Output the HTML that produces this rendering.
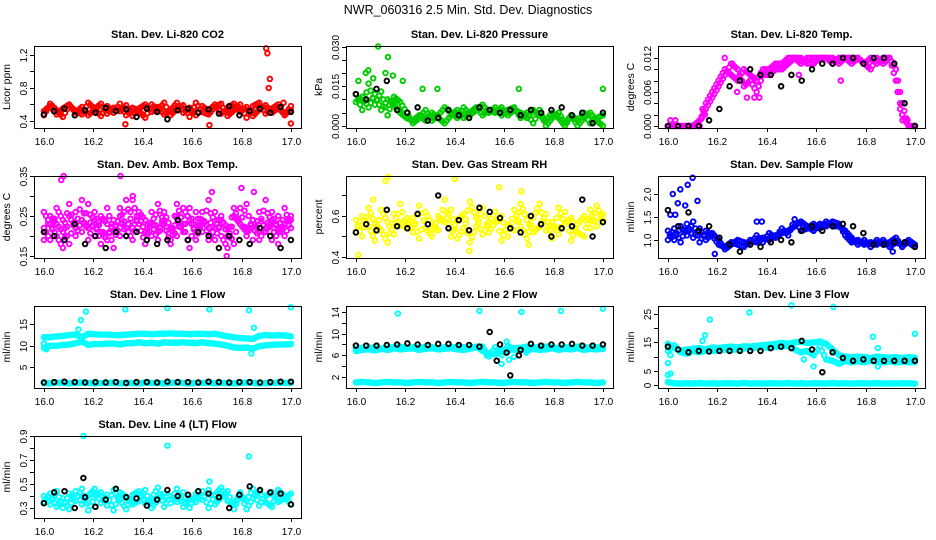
<!DOCTYPE html>
<html><head><meta charset="utf-8"><title>NWR_060316 diagnostics</title>
<style>
html,body{margin:0;padding:0;background:#fff;}
svg{display:block;font-family:"Liberation Sans",Arial,sans-serif;}
</style></head>
<body>
<svg id="chart" width="936" height="540" viewBox="0 0 936 540" xmlns="http://www.w3.org/2000/svg">
<rect x="0" y="0" width="936" height="540" fill="#fff"/>
<text x="468" y="14" text-anchor="middle" font-size="12.5">NWR_060316  2.5 Min. Std. Dev. Diagnostics</text>
</svg>
<script>
// ---- data (x of band series spans 16.0..17.0 evenly) ----
const xTicks = [16.0, 16.2, 16.4, 16.6, 16.8, 17.0];
const xTickLabels = ["16.0", "16.2", "16.4", "16.6", "16.8", "17.0"];

const co2A = [0.52,0.58,0.48,0.55,0.60,0.50,0.57,0.47,0.54,0.61,0.49,0.56,0.52,0.59,0.46,0.55,0.60,0.51,0.57,0.48,0.53,0.62,0.50,0.56,0.47,0.58,0.52,0.60,0.49,0.55,0.61,0.51,0.57,0.46,0.54,0.59,0.50,0.56,0.48,0.53];
const co2B = [0.47,0.61,0.53,0.45,0.59,0.52,0.48,0.62,0.55,0.46,0.58,0.50,0.61,0.47,0.56,0.52,0.44,0.60,0.53,0.62,0.47,0.55,0.59,0.45,0.62,0.51,0.48,0.57,0.61,0.46,0.53,0.60,0.44,0.58,0.62,0.49,0.55,0.60,0.47,0.58];
const co2OutX = [16.33,16.67,16.90,16.905,16.91,16.915,17.0,16.97];
const co2OutY = [0.36,0.35,1.28,1.22,0.80,0.91,0.37,0.62];
const co2K = [0.48,0.52,0.55,0.47,0.53,0.50,0.56,0.52,0.54,0.45,0.55,0.51,0.42,0.53,0.55,0.50,0.54,0.49,0.58,0.47,0.52,0.55,0.50,0.57,0.51];

const presA = [.009,.011,.007,.012,.006,.010,.008,.005,.003,.002,.004,.002,.005,.003,.001,.004,.006,.003,.005,.007,.004,.006,.005,.007,.004,.006,.005,.003,.006,.004,.002,.005,.003,.000,.004,.002,.005,.001,.003,.004];
const presB = [.012,.006,.016,.008,.013,.004,.011,.009,.005,.001,.003,.006,.002,.004,.007,.005,.003,.007,.004,.006,.008,.005,.007,.004,.006,.007,.003,.005,.001,.006,.000,.003,.005,.001,.004,.000,.003,.005,.002,.000];
const presOutX = [16.09,16.13,16.07,16.12,16.05,16.27,16.33,16.66,17.0,16.01,16.19,16.04,16.15];
const presOutY = [.030,.026,.018,.020,.021,.014,.014,.014,.014,.017,.017,.020,.019];
const presK = [.012,.010,.014,.017,.006,.005,.007,.002,.003,.006,.004,.003,.007,.006,.005,.006,.004,.006,.005,.006,.007,.004,.005,.001,.005];

const tempA = [0,0,0,0,0,0,.004,.006,.008,.010,.009,.008,.010,.009,.008,.010,.010,.011,.011,.012,.012,.011,.012,.012,.012,.012,.012,.011,.012,.012,.012,.011,.012,.011,.012,.012,.008,.002,0,0];
const tempB = [0,0,0,0,0,.001,.003,.005,.007,.009,.011,.010,.007,.008,.006,.009,.009,.010,.010,.011,.012,.012,.011,.011,.012,.012,.011,.012,.012,.011,.012,.011,.010,.012,.011,.012,.010,.004,0,0];
const tempOutX = [16.15,16.14,16.23,16.26,16.28,16.32,16.35,16.37,16.53,16.70,16.01,16.03,16.95,16.97,16.93,16.94];
const tempOutY = [.002,.003,.012,.011,.006,.005,.005,.005,.009,.008,.001,.001,.001,.001,.006,.003];
const tempK = [0,0,0,0,.001,.003,.007,.008,.010,.009,.009,.007,.009,.008,.010,.011,.011,.012,.012,.011,.012,.012,.011,.004,0];

const ambA = [.22,.19,.27,.24,.18,.26,.21,.28,.20,.25,.23,.17,.27,.22,.19,.26,.24,.20,.28,.23,.18,.25,.21,.27,.19,.24,.22,.26,.20,.17,.25,.23,.28,.19,.26,.21,.24,.18,.27,.22];
const ambB = [.26,.23,.20,.17,.25,.22,.29,.19,.24,.18,.27,.21,.25,.20,.29,.23,.18,.26,.21,.24,.19,.28,.23,.17,.26,.21,.29,.19,.24,.22,.18,.27,.20,.24,.21,.29,.19,.25,.20,.24];
const ambC = [.19,.25,.23,.21,.28,.20,.24,.22,.26,.21,.19,.24,.20,.29,.22,.25,.21,.23,.19,.26,.22,.20,.27,.24,.21,.26,.19,.22,.25,.20,.27,.23,.21,.24,.19,.22,.26,.21,.23,.25];
const ambOutX = [16.07,16.08,16.31,16.80,16.85,16.68,16.74,16.36];
const ambOutY = [.34,.35,.35,.32,.31,.31,.15,.30];
const ambK = [.21,.20,.19,.23,.18,.20,.17,.21,.20,.21,.19,.18,.19,.24,.19,.21,.20,.17,.20,.19,.18,.22,.20,.17,.19];

const rhA = [.52,.60,.55,.48,.63,.57,.51,.66,.54,.59,.49,.62,.56,.53,.68,.50,.58,.61,.47,.55,.64,.52,.57,.60,.50,.63,.55,.49,.59,.66,.53,.57,.51,.62,.48,.56,.60,.54,.65,.58];
const rhB = [.58,.50,.64,.56,.53,.47,.61,.55,.59,.52,.65,.54,.50,.60,.57,.63,.49,.54,.67,.59,.51,.57,.62,.48,.56,.53,.66,.58,.52,.55,.61,.49,.64,.56,.59,.52,.50,.63,.55,.61];
const rhOutX = [16.01,16.12,16.13,16.40,16.46,16.67,16.58,16.07,16.70];
const rhOutY = [.41,.77,.79,.78,.43,.72,.74,.68,.46];
const rhK = [.52,.56,.53,.63,.55,.54,.61,.56,.70,.54,.58,.53,.64,.62,.59,.54,.52,.60,.56,.50,.54,.55,.68,.50,.57];

const sfA = [1.2,1.0,1.3,1.1,1.4,0.95,1.2,1.1,0.9,0.85,0.95,0.9,0.85,1.0,0.95,1.05,1.0,1.1,1.15,1.2,1.3,1.4,1.3,1.2,1.35,1.3,1.4,1.35,1.1,0.95,1.0,0.9,0.95,0.9,1.0,0.85,0.95,0.9,0.95,0.85];
const sfB = [1.0,1.25,0.95,1.35,1.05,1.25,1.0,1.15,1.0,0.8,0.9,1.0,0.95,0.9,1.1,0.95,1.15,1.05,1.25,1.1,1.45,1.2,1.25,1.35,1.25,1.4,1.3,1.3,1.2,1.05,0.9,1.0,0.85,1.0,0.9,0.95,1.05,0.85,1.0,0.9];
const sfOutX = [16.02,16.03,16.04,16.05,16.07,16.08,16.10,16.12,16.19,16.36,16.38,16.91,16.01];
const sfOutY = [2.0,1.55,1.8,2.1,1.75,2.2,2.35,1.85,0.7,1.4,1.4,0.75,1.55];
const sfK = [1.65,1.3,1.6,1.2,1.3,1.05,0.9,0.75,0.9,0.85,0.95,1.0,0.95,1.2,1.3,1.2,1.3,1.35,1.3,1.15,0.9,0.9,0.95,0.95,0.85];

const l1Hi = [12.0,12.0,12.2,12.3,12.5,12.6,12.0,12.8,12.7,12.6,12.6,12.5,12.5,12.6,12.7,12.8,12.8,12.7,12.8,12.8,12.9,12.8,12.8,12.7,12.8,12.8,12.7,12.8,12.5,12.2,12.0,11.8,11.7,11.6,12.3,12.5,12.4,12.5,12.4,12.2];
const l1Lo = [9.5,10.0,10.0,10.2,10.3,10.6,11.0,10.2,10.4,10.4,10.5,10.5,10.3,10.6,10.6,10.8,10.6,10.7,10.5,10.8,10.7,10.7,10.8,10.7,10.6,10.8,10.6,10.5,10.3,10.0,9.6,9.5,9.6,9.3,9.9,10.1,10.2,10.3,10.3,10.4];
const l1Base = [1.3,1.2,1.4,1.3,1.2,1.3,1.4,1.3,1.2,1.3,1.3,1.4,1.2,1.3,1.3,1.2,1.4,1.3,1.3,1.2,1.3,1.4,1.3,1.2,1.3,1.3,1.4,1.2,1.3,1.3,1.2,1.3,1.4,1.3,1.2,1.3,1.3,1.4,1.3,1.3];
const l1OutX = [16.14,16.15,16.17,16.33,16.50,16.67,16.83,16.85,16.84,17.0,16.0,16.01];
const l1OutY = [13.8,16.0,18.0,18.5,18.8,18.5,18.3,14.2,8.2,19.0,10.5,9.2];
const l1K = [1.4,1.5,1.6,1.5,1.4,1.5,1.4,1.5,1.3,1.5,1.5,1.4,1.6,1.5,1.5,1.4,1.6,1.5,1.4,1.5,1.5,1.4,1.5,1.6,1.6];

const l2A = [7.2,7.4,7.3,7.5,7.2,7.4,7.5,7.6,7.3,7.5,7.4,7.6,7.5,7.3,7.5,7.4,7.6,7.5,7.4,7.6,6.8,6.4,6.2,7.0,6.8,7.3,7.4,7.6,7.5,7.4,7.6,7.5,7.3,7.5,7.4,7.6,7.5,7.4,7.5,7.3];
const l2B = [6.8,7.0,7.1,6.9,7.2,7.0,7.3,7.1,7.2,7.3,7.0,7.2,7.3,7.1,7.2,7.3,7.1,7.0,7.2,7.5,7.6,5.8,7.5,6.0,7.8,7.0,7.1,6.9,7.2,7.0,7.1,7.3,7.0,7.2,7.1,7.3,7.0,7.2,7.1,7.2];
const l2Base = [1.0,1.1,1.0,0.9,1.0,1.1,1.0,1.0,0.9,1.0,1.1,1.0,1.0,0.9,1.0,1.1,1.0,1.0,0.9,1.0,1.1,1.0,1.0,0.9,1.0,1.1,1.0,1.0,0.9,1.0,1.1,1.0,1.0,0.9,1.0,1.1,1.0,1.0,0.9,1.0];
const l2OutX = [16.17,16.33,16.50,16.67,16.83,17.0,16.53,16.59,16.62,16.61,16.64,16.69];
const l2OutY = [13.7,15.3,14.2,14.0,14.2,14.6,6.0,4.4,5.2,8.5,5.7,6.5];
const l2K = [7.8,7.8,7.8,7.9,8.0,8.2,8.0,7.9,8.1,8.1,7.9,7.9,7.6,10.3,8.0,2.3,7.0,8.1,7.8,8.0,8.0,8.1,7.8,7.8,8.0];
const l2KOutX = [16.57,16.61,16.66];
const l2KOutY = [5.0,6.5,6.0];

const l3A = [14.5,13.0,12.0,12.5,12.8,13.0,12.5,13.2,13.0,13.3,13.5,13.2,13.6,13.5,13.8,14.0,14.2,14.5,14.8,14.5,15.0,15.2,14.8,15.0,15.3,14.5,12.5,10.5,10.0,9.8,10.0,9.8,9.5,10.0,9.8,9.6,9.8,9.5,9.8,9.6];
const l3B = [12.0,14.0,11.5,11.0,12.0,11.5,12.0,12.0,12.2,12.5,12.3,12.6,12.8,13.0,13.2,13.3,13.0,13.5,13.5,13.8,12.5,11.5,12.0,10.5,13.5,9.0,8.5,7.5,8.5,8.0,8.3,8.0,8.5,8.2,8.0,8.3,8.0,8.2,8.0,8.1];
const l3Base = [1.0,0.6,0.5,0.6,0.5,0.7,0.5,0.6,0.5,0.6,0.6,0.5,0.7,0.5,0.6,0.5,0.6,0.6,0.5,0.7,0.5,0.6,0.5,0.6,0.6,0.5,0.7,0.5,0.6,0.5,0.6,0.6,0.5,0.7,0.5,0.6,0.5,0.6,0.6,0.5];
const l3OutX = [16.17,16.33,16.50,16.67,16.83,16.85,16.85,17.0,16.0,16.01,16.0,16.01,16.15,16.14,16.59,16.55];
const l3OutY = [23,25.5,28,27.5,17,13,6.5,18,7.7,10.5,3.5,4.0,17.5,15.5,6.5,9];
const l3K = [13.5,12.5,11.5,12.0,11.8,12.0,12.0,12.0,12.0,12.0,13.0,13.5,13.0,15.5,12.5,4.5,11.5,9.5,8.5,9.0,8.5,8.5,8.5,8.5,8.5];

const l4A = [.40,.33,.44,.30,.42,.36,.46,.28,.39,.43,.32,.45,.37,.29,.41,.44,.34,.38,.47,.31,.40,.35,.43,.30,.42,.37,.45,.33,.39,.44,.29,.41,.36,.46,.32,.40,.43,.35,.38,.42];
const l4B = [.35,.42,.31,.38,.29,.44,.33,.40,.46,.34,.41,.28,.43,.39,.33,.36,.45,.30,.37,.42,.34,.46,.31,.39,.35,.44,.30,.41,.47,.36,.33,.43,.29,.38,.44,.35,.31,.45,.40,.33];
const l4OutX = [16.16,16.50,16.83,16.67];
const l4OutY = [0.90,0.82,0.73,0.52];
const l4K = [.34,.43,.44,.30,.39,.31,.37,.46,.39,.38,.32,.37,.45,.40,.41,.44,.42,.39,.30,.41,.48,.45,.43,.42,.33];
const l4KOutX = [16.16];
const l4KOutY = [0.55];

// ---- panels ----
const panels = [
 {name:"co2",title:"Stan. Dev. Li-820 CO2",ylab:"Licor ppm",col:0,row:0,y0:0.315,y1:1.309,ticks:[0.4,0.6,0.8,1.0,1.2],labels:{"0.4":"0.4","0.8":"0.8","1.2":"1.2"},color:"#ff0000",bands:[co2A,co2B],ox:co2OutX,oy:co2OutY,k:co2K},
 {name:"pressure",title:"Stan. Dev. Li-820 Pressure",ylab:"kPa",col:1,row:0,y0:-0.0008,y1:0.0302,ticks:[0,.005,.01,.015,.02,.025,.03],labels:{"0":"0.000","0.015":"0.015","0.03":"0.030"},color:"#00cc00",bands:[presA,presB],ox:presOutX,oy:presOutY,k:presK},
 {name:"temp",title:"Stan. Dev. Li-820 Temp.",ylab:"degrees C",col:2,row:0,y0:-0.00035,y1:0.0141,ticks:[0,.002,.004,.006,.008,.01,.012],labels:{"0":"0.000","0.006":"0.006","0.012":"0.012"},color:"#ff00ff",bands:[tempA,tempB],ox:tempOutX,oy:tempOutY,k:tempK},
 {name:"amb-box-temp",title:"Stan. Dev. Amb. Box Temp.",ylab:"degrees C",col:0,row:1,y0:0.145,y1:0.35,ticks:[.15,.2,.25,.3,.35],labels:{"0.15":"0.15","0.25":"0.25","0.35":"0.35"},color:"#ff00ff",bands:[ambA,ambB,ambC],ox:ambOutX,oy:ambOutY,k:ambK},
 {name:"gas-rh",title:"Stan. Dev. Gas Stream RH",ylab:"percent",col:1,row:1,y0:0.395,y1:0.795,ticks:[.4,.5,.6,.7],labels:{"0.4":"0.4","0.6":"0.6"},color:"#ffff00",bands:[rhA,rhB],ox:rhOutX,oy:rhOutY,k:rhK},
 {name:"sample-flow",title:"Stan. Dev. Sample Flow",ylab:"ml/min",col:2,row:1,y0:0.61,y1:2.39,ticks:[1.0,1.5,2.0],labels:{"1":"1.0","1.5":"1.5","2":"2.0"},color:"#0000ff",bands:[sfA,sfB],ox:sfOutX,oy:sfOutY,k:sfK},
 {name:"line1-flow",title:"Stan. Dev. Line 1 Flow",ylab:"ml/min",col:0,row:2,y0:0.12,y1:19.3,ticks:[5,10,15],labels:{"5":"5","10":"10","15":"15"},color:"#00ffff",bands:[l1Hi,l1Lo,l1Base],ox:l1OutX,oy:l1OutY,k:l1K},
 {name:"line2-flow",title:"Stan. Dev. Line 2 Flow",ylab:"ml/min",col:1,row:2,y0:-0.03,y1:15.1,ticks:[2,4,6,8,10,12,14],labels:{"2":"2","6":"6","10":"10","14":"14"},color:"#00ffff",bands:[l2A,l2B,l2Base],ox:l2OutX,oy:l2OutY,k:l2K,kox:l2KOutX,koy:l2KOutY},
 {name:"line3-flow",title:"Stan. Dev. Line 3 Flow",ylab:"ml/min",col:2,row:2,y0:-1.06,y1:27.8,ticks:[0,5,10,15,20,25],labels:{"0":"0","5":"5","15":"15","25":"25"},color:"#00ffff",bands:[l3A,l3B,l3Base],ox:l3OutX,oy:l3OutY,k:l3K},
 {name:"line4-flow",title:"Stan. Dev. Line 4 (LT) Flow",ylab:"ml/min",col:0,row:3,y0:0.217,y1:0.9,ticks:[.3,.4,.5,.6,.7,.8,.9],labels:{"0.3":"0.3","0.5":"0.5","0.7":"0.7","0.9":"0.9"},color:"#00ffff",bands:[l4A,l4B],ox:l4OutX,oy:l4OutY,k:l4K,kox:l4KOutX,koy:l4KOutY}
];

const NS = "http://www.w3.org/2000/svg";
const svg = document.getElementById("chart");
const colLeft = [34, 346, 658], rowTop = [46, 176, 306, 436], W = 267, H = 82;

function mk(tag, attrs, parent) {
  const e = document.createElementNS(NS, tag);
  for (const k in attrs) e.setAttribute(k, attrs[k]);
  parent.appendChild(e);
  return e;
}

panels.forEach(p => {
  const L = colLeft[p.col], T = rowTop[p.row];
  const xS = v => L + 9.9 + (v - 16) * 247;
  const yS = v => T + H - (v - p.y0) / (p.y1 - p.y0) * H;
  const g = mk("g", {}, svg);
  
  

  const t = mk("text", {x: L + W / 2, y: T - 8, "text-anchor": "middle", "font-size": "11", "font-weight": "bold"}, g);
  t.textContent = p.title;
  
  

  const yl = mk("text", {x: 0, y: 0, "text-anchor": "middle", "font-size": "10.5", transform: `translate(${L - 24},${T + H / 2}) rotate(-90)`}, g);
  yl.textContent = p.ylab;
  
  

  const pts = mk("g", {fill: "none", "stroke-width": "1.9"}, g);
  
  
  const dot = (x, y, c, nm) => {
    const cy = yS(y);
    if (cy < T - 1 || cy > T + H + 1) return;
    const c1 = mk("circle", {cx: xS(x).toFixed(1), cy: cy.toFixed(1), r: 2.3, stroke: c}, pts);
    
    
  };
  p.bands.forEach(arr => {
    const n = arr.length;
    for (let j = 0; j < 3; j++) {
      arr.forEach((v, i) => {
        const x = 16 + (i + j / 3) / n * (n / (n - 1));
        if (x > 17.001) return;
        const v2 = arr[Math.min(i + (j ? 1 : 0), n - 1)];
        const vv = j === 0 ? v : (j === 1 ? (v * 2 + v2) / 3 : (v + v2 * 2) / 3);
        dot(x, vv, p.color, p.name + '-point');
      });
    }
  });
  p.ox.forEach((x, i) => dot(x, p.oy[i], p.color, p.name + '-outlier'));
  p.k.forEach((v, i) => dot(16 + i / (p.k.length - 1), v, "#000", p.name + '-black-point'));
  if (p.kox) p.kox.forEach((x, i) => dot(x, p.koy[i], "#000", p.name + '-black-point'));

  const box = mk("rect", {x: L + 0.5, y: T + 0.5, width: W, height: H, fill: "none", stroke: "#000", "stroke-width": 1}, g);
  
  

  const ya = mk("g", {}, g);
  
  
  p.ticks.forEach(v => {
    const y = Math.round(yS(v)) + 0.5;
    mk("line", {x1: L - 4, x2: L, y1: y, y2: y, stroke: "#000"}, ya);
    const key = String(+v.toFixed(4));
    if (p.labels[key]) {
      const tl = mk("text", {x: 0, y: 0, "text-anchor": "middle", "font-size": "10", transform: `translate(${L - 7},${y}) rotate(-90)`}, ya);
      tl.textContent = p.labels[key];
      
      
    }
  });
  const xa = mk("g", {}, g);
  
  
  mk("line", {x1: xS(16), x2: xS(17), y1: T + H + 0.5, y2: T + H + 0.5, stroke: "#000"}, xa);
  xTicks.forEach((v, i) => {
    const x = Math.round(xS(v)) + 0.5;
    mk("line", {x1: x, x2: x, y1: T + H, y2: T + H + 4, stroke: "#000"}, xa);
    const tl = mk("text", {x: x, y: T + H + 17, "text-anchor": "middle", "font-size": "10"}, xa);
    tl.textContent = xTickLabels[i];
    
    
  });
});
</script>
</body></html>
